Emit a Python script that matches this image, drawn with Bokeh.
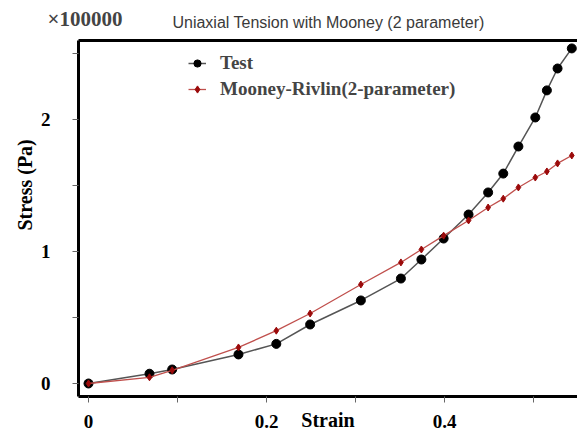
from bokeh.plotting import figure
from bokeh.layouts import column
from bokeh.models import (Range1d, FixedTicker, LinearAxis, Label, Legend, LegendItem, Title)
from bokeh.embed import file_html
from bokeh.resources import INLINE

# data (stress in units of 1e5 Pa)
strain = [0, 0.0685, 0.094, 0.1685, 0.211, 0.249, 0.306, 0.351, 0.374, 0.399,
          0.427, 0.449, 0.466, 0.483, 0.502, 0.515, 0.527, 0.543]
test_stress = [0, 0.074, 0.106, 0.22, 0.30, 0.447, 0.629, 0.795, 0.939, 1.098,
               1.28, 1.447, 1.59, 1.795, 2.015, 2.22, 2.386, 2.538]
mooney_stress = [0, 0.047, 0.10, 0.273, 0.40, 0.53, 0.75, 0.917, 1.015, 1.12,
                 1.235, 1.333, 1.40, 1.485, 1.56, 1.606, 1.667, 1.727]
x_ticks = [0, 0.2, 0.4]
x_minor = [0.1, 0.3, 0.5]
x_tick_labels = ["0", "0.2", "0.4"]
y_ticks = [0, 1, 2]
y_minor = [0.5, 1.5, 2.5]
y_tick_labels = ["0", "1", "2"]
title_text = "Uniaxial Tension with Mooney (2 parameter)"
scale_text = "×100000"
series_names = ["Test", "Mooney-Rivlin(2-parameter)"]

SERIF = "Liberation Serif"

# header strip holding the scale factor and the title
header = figure(width=577, height=38, output_backend="svg", toolbar_location=None,
                x_range=Range1d(0, 577), y_range=Range1d(0, 38),
                x_axis_location=None, y_axis_location=None, min_border=0)
header.frame_align = False
header.outline_line_color = None
header.grid.visible = False
header.add_layout(Label(x=47, y=18, x_units="canvas", y_units="canvas", text=scale_text,
                        text_font=SERIF, text_font_style="bold", text_font_size="21px",
                        text_baseline="middle", text_align="left"))
header.add_layout(Label(x=328, y=22, x_units="canvas", y_units="canvas", text=title_text,
                        text_font="Liberation Sans", text_font_size="16px", text_color="#3a3a3a",
                        text_baseline="middle", text_align="center"))

p = figure(width=577, height=398, output_backend="svg", toolbar_location=None,
           x_range=Range1d(-0.01124, 0.5494), y_range=Range1d(-0.0985, 2.598),
           min_border_left=78, min_border_right=0, min_border_top=2, min_border_bottom=40)
p.frame_align = False
p.outline_line_color = None
p.grid.visible = False

for ax, ticks, minor, labels in ((p.xaxis[0], x_ticks, x_minor, x_tick_labels),
                                 (p.yaxis[0], y_ticks, y_minor, y_tick_labels)):
    ax.ticker = FixedTicker(ticks=ticks, minor_ticks=minor)
    ax.major_label_overrides = {t: l for t, l in zip(ticks, labels)}
    ax.axis_line_width = 3
    ax.axis_line_color = "black"
    ax.major_tick_in = 0
    ax.minor_tick_in = 0
    ax.major_tick_out = 6
    ax.minor_tick_out = 6
    ax.major_tick_line_color = "#666666"
    ax.minor_tick_line_color = "#666666"
    ax.major_label_text_font = SERIF
    ax.major_label_text_font_style = "bold"
    ax.major_label_text_font_size = "19px"
    ax.major_label_text_color = "black"

p.xaxis[0].major_label_standoff = 12
p.yaxis[0].major_label_standoff = 22
p.xaxis[0].axis_label = "Strain"
p.xaxis[0].axis_label_text_font = SERIF
p.xaxis[0].axis_label_text_font_style = "bold"
p.xaxis[0].axis_label_text_font_size = "20px"
p.xaxis[0].axis_label_text_color = "black"
p.xaxis[0].axis_label_standoff = -22

top = LinearAxis(ticker=FixedTicker(ticks=[]), axis_line_width=3, axis_line_color="black",
                 major_tick_out=0, minor_tick_out=0, major_tick_in=0, minor_tick_in=0,
                 major_label_standoff=0, major_label_text_font_size="0px")
p.add_layout(top, "above")

p.add_layout(Title(text="Stress (Pa)", align="left", offset=166, standoff=4,
                   text_font=SERIF, text_font_style="bold", text_font_size="20px",
                   text_color="black"), "left")

r_test = p.line(strain, test_stress, line_color="#555555", line_width=1.5)
m_test = p.scatter(strain, test_stress, marker="circle", size=9, fill_color="black", line_color="black")
r_moon = p.line(strain, mooney_stress, line_color="#c0504d", line_width=1.3)
m_moon = p.scatter(strain, mooney_stress, marker="diamond", size=7, fill_color="#9b0a0a", line_color="#9b0a0a")

legend = Legend(items=[LegendItem(label=series_names[0], renderers=[r_test, m_test]),
                       LegendItem(label=series_names[1], renderers=[r_moon, m_moon])],
                location=(110, 294), margin=0, padding=0, spacing=0,
                glyph_width=18, glyph_height=26, label_height=26, label_standoff=14,
                label_text_font=SERIF, label_text_font_style="bold", label_text_font_size="19px",
                border_line_color=None, background_fill_alpha=0)
p.add_layout(legend)

open("out.html", "w").write(file_html(column(header, p, spacing=0), INLINE))
